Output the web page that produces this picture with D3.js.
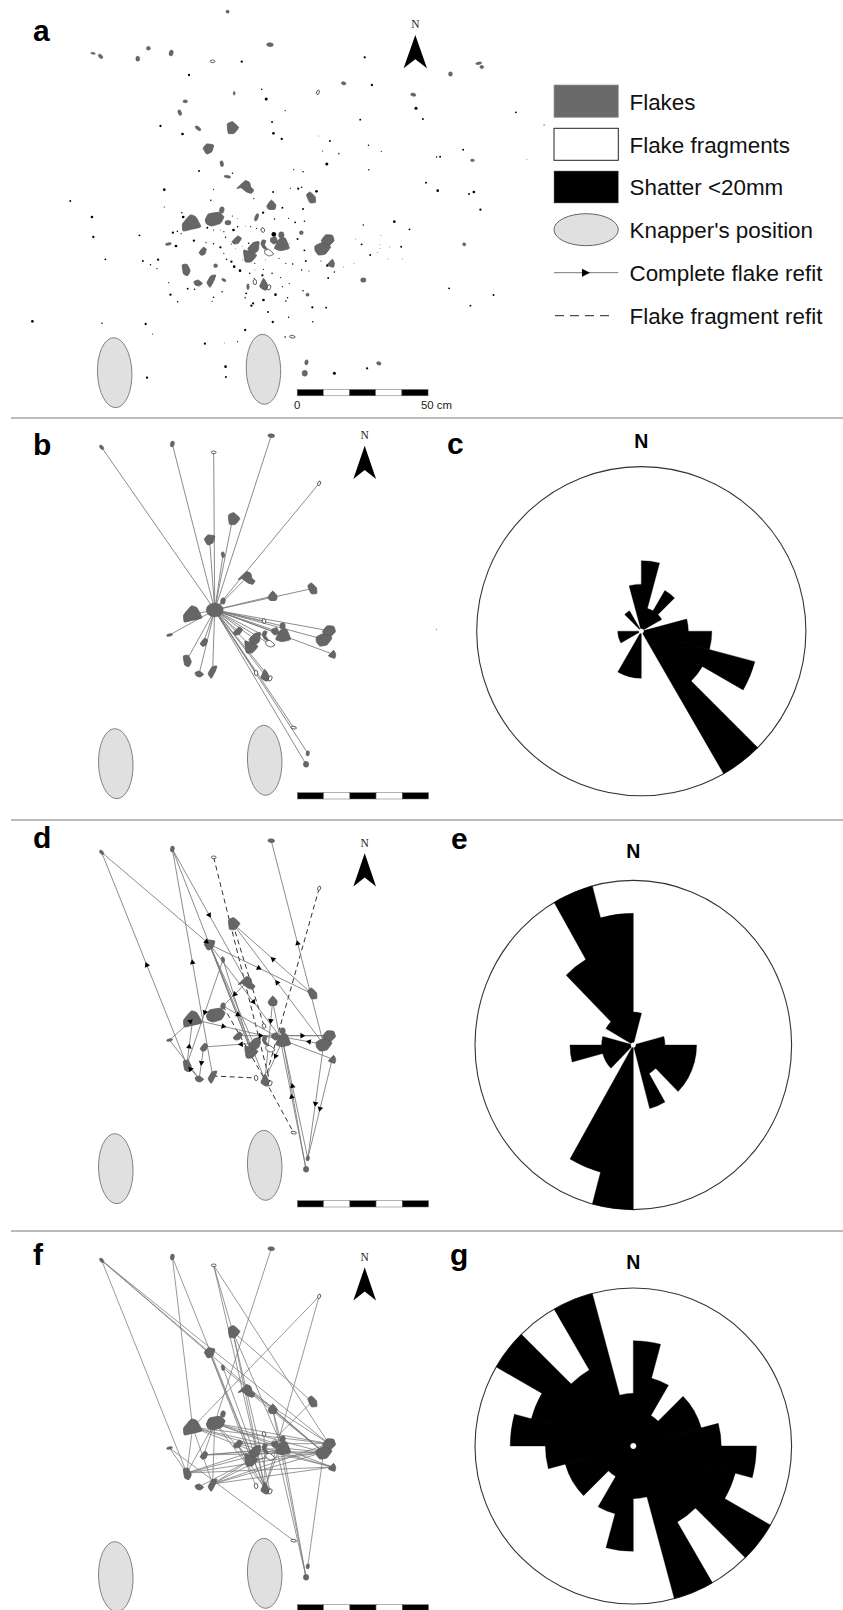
<!DOCTYPE html>
<html><head><meta charset="utf-8">
<style>html,body{margin:0;padding:0;background:#fff}svg{display:block}text{font-family:"Liberation Sans",Arial,sans-serif}</style>
<script src="https://cdn.jsdelivr.net/npm/d3@7"></script></head>
<body><script>
// ---------- DATA (site grid units; 380 units = 50 cm) ----------
const refitCentres = [null,[292,169],[497,159],[617,184],[784,134],[923,277],[672,382],[605,445],[644,491],[713,559],[644,630],[620,657],[556,670],[788,615],[902,593],[951,719],[936,745],[961,789],[817,732],[796,719],[817,705],[763,690],[686,719],[733,742],[726,767],[765,735],[779,759],[489,732],[588,753],[539,807],[575,848],[614,840],[740,846],[766,852],[781,862],[849,1010],[890,1087],[885,1120]];
const flakeOutlines = {
 6:[[660,372],[675,365],[693,382],[680,400],[663,400]],
 7:[[590,445],[600,432],[620,435],[615,455],[600,462]],
 9:[[688,565],[712,542],[725,548],[728,562],[737,570],[730,580],[715,575],[700,563]],
 11:[[596,660],[605,642],[635,637],[650,650],[640,670],[615,678],[600,672]],
 12:[[532,693],[530,672],[552,645],[568,650],[583,680],[555,688]],
 13:[[775,618],[788,600],[801,615],[798,628],[780,628]],
 14:[[890,585],[900,576],[915,590],[916,607],[900,608]],
 15:[[933,722],[945,705],[965,706],[970,722],[955,738],[940,732]],
 16:[[915,738],[935,728],[960,740],[945,762],[925,765],[915,752]],
 17:[[950,795],[965,778],[971,790],[968,802]],
 18:[[797,745],[810,718],[828,714],[840,745],[815,752]],
 19:[[786,715],[800,710],[806,725],[795,732],[786,725]],
 22:[[674,725],[690,708],[701,715],[692,730],[680,732]],
 23:[[720,745],[735,728],[752,725],[750,750],[740,760],[725,758]],
 24:[[708,750],[745,765],[730,785],[712,785]],
 25:[[762,720],[772,722],[768,735],[778,750],[765,745],[758,732]],
 28:[[578,758],[590,742],[599,747],[595,762],[585,766]],
 29:[[529,795],[543,793],[552,812],[545,827],[533,822]],
 30:[[563,845],[575,840],[588,850],[578,858],[567,855]],
 31:[[601,848],[612,828],[626,825],[622,840],[610,862]],
 33:[[754,860],[765,835],[775,850],[778,868],[768,870]]
};
// id: [rx, ry, rotation]
const smallRefitFlakes = {1:[8,5,45],2:[6,9,10],4:[10,6,5],8:[5,9,-10],10:[7,10,10],20:[8,10,0],27:[9,4,-10],36:[5,8,10],37:[8,9,0]};
const fragmentRefits = {3:[7,4,0],5:[4,7,20],21:[5,7,-20],32:[5,8,-5],34:[5,8,20],35:[8,4,10]};
const fragmentOutline = [[768,752],[780,748],[795,762],[782,768],[770,762]];
const otherFlakes = [[661,35,5,5,0],[270,160,7,3,10],[431,145,6,6,0],[400,176,6,8,0],[1308,222,6,7,0],[1390,190,9,4,-10],[1399,201,6,5,0],[998,250,7,5,10],[1200,284,8,5,10],[538,304,7,5,0],[522,338,5,9,-20],[575,385,10,5,40],[660,530,10,4,10],[745,652,5,12,20],[1372,481,6,4,0],[1348,733,5,5,30],[1055,840,8,7,0],[1100,1090,7,5,20],[893,884,5,5,0],[626,797,6,6,0],[650,840,7,4,30],[720,860,4,9,0],[875,698,6,6,0],[662,668,9,7,0],[725,570,8,8,0],[680,280,3,6,0]];
const shatter = [[1059,172,3],[702,185,3],[549,225,3],[760,268,2],[773,297,4],[828,332,1.5],[1498,337,2.5],[1208,325,4],[1228,357,2.5],[1046,359,2.5],[790,366,2.5],[466,378,3],[530,402,3.5],[794,400,3.5],[818,417,3],[925,408,1],[958,423,2.5],[1070,436,2],[937,453,1.5],[984,461,2],[1107,454,1.5],[1345,449,2.5],[1268,471,2],[1278,470,2.5],[1530,479,1],[949,492,4],[578,513,2.5],[853,509,1.5],[880,515,2],[1071,509,2],[675,520,2],[1237,548,2.5],[477,569,3.5],[620,568,1.5],[793,576,2.5],[843,565,1.5],[866,566,3],[876,562,2],[919,574,3.5],[1271,572,3.5],[1362,582,2.5],[1376,576,3.5],[204,603,2.5],[612,601,2],[737,596,1.5],[477,621,1.5],[820,623,2.5],[880,627,2.5],[1395,629,3],[267,651,3.5],[528,638,2],[532,651,3.5],[764,638,3],[797,657,2],[838,655,1.5],[857,667,2.5],[884,664,2],[1145,665,3.5],[1055,675,2],[1189,688,2.5],[271,711,3],[405,706,2.5],[502,698,3],[515,694,2],[526,701,1.5],[602,683,2.5],[620,690,1.5],[640,690,1],[650,695,1.5],[675,648,1.5],[690,655,1],[678,690,3.5],[690,680,2],[655,712,2],[712,678,1],[728,680,1.5],[745,685,1.5],[795,703,6],[864,717,2.5],[1033,717,1],[1106,707,1],[563,722,3],[598,728,1.5],[620,731,2],[640,742,3],[672,732,1.5],[684,745,1],[703,740,1],[722,730,2],[511,738,3.5],[840,730,1],[884,751,2.5],[1050,733,2.5],[1103,733,1],[1132,741,1],[1165,740,2.5],[1103,745,1],[1095,758,1],[1075,765,2.5],[306,778,2.5],[415,783,2.5],[459,779,3],[437,794,2],[456,806,1.5],[650,760,1.5],[658,778,2],[672,785,3],[680,800,3.5],[697,812,3.5],[705,780,1],[740,790,1.5],[770,780,1],[810,775,1.5],[830,790,1.5],[850,792,2],[888,783,2.5],[932,783,1.5],[950,797,3],[971,816,2],[998,801,1],[1028,791,1],[1127,777,1],[1168,777,1],[876,810,2],[897,813,1.5],[740,810,1],[765,808,1.5],[725,820,2],[762,826,3],[790,820,2],[815,833,1.5],[738,835,1.5],[953,834,2.5],[490,848,1.5],[840,850,1.5],[545,866,2.5],[565,868,2],[645,875,2],[820,860,1.5],[495,884,3],[715,880,2.5],[800,884,3.5],[880,872,2],[1304,865,2.5],[1433,885,2.5],[620,892,2],[712,893,2],[835,893,2],[765,900,3.5],[830,903,2],[616,904,1.5],[516,905,2],[735,910,3],[730,917,3],[907,922,3],[947,923,2.5],[1366,917,2.5],[778,936,2.5],[838,952,2],[94,964,3.5],[296,970,2],[423,972,3],[792,966,3],[908,965,2],[443,1002,1.5],[712,990,3],[828,1011,2],[595,1031,3],[651,1029,1],[690,1025,1.5],[655,1100,3.5],[1066,1105,3],[971,1120,4],[427,1133,3],[656,1131,2.5],[1080,255,3],[1580,375,1.5]];
const knappers = [[333,1118],[765,1108]];
const scaleCm = [0,10,20,30,40,50];

// panel b: all refits converge on flake 11
const hubId = 11;
const hubTargets = [1,2,3,4,5,6,7,8,9,10,12,13,14,15,16,17,18,19,20,21,22,23,24,25,26,27,28,29,30,31,32,33,34,35,36,37];
// panel d: [from, to, arrow position along line or null]
const completeRefits = [[29,1,.47],[31,2,.5],[1,7,.97],[7,14,.48],[2,9,.495],[2,24,null],[16,4,.496],[14,6,.49],[16,6,.51],[7,18,.6],[7,24,null],[7,23,null],[7,33,null],[8,29,.5],[9,10,.5],[10,18,.25],[12,18,.34],[13,33,.25],[37,13,.43],[27,12,.9],[27,30,null],[29,12,.4],[28,30,.5],[23,28,.25],[30,29,.7],[16,36,.52],[17,36,.5],[36,18,.61],[37,18,null],[22,15,.25],[19,15,.5],[16,19,.3],[17,18,null],[18,33,.4],[8,24,null]];
const fragmentRefitLines = [[3,34],[5,33],[6,21],[10,33],[31,32],[33,35]];
// panel f: all refit links
const allRefits = [[1,16],[1,15],[1,7],[1,29],[2,12],[2,33],[3,33],[3,6],[3,15],[4,11],[5,12],[5,33],[6,14],[6,33],[6,18],[6,34],[7,24],[7,33],[8,16],[8,23],[9,16],[9,15],[13,37],[13,16],[13,18],[14,25],[12,15],[12,17],[12,18],[12,23],[12,31],[11,15],[11,16],[11,17],[11,31],[11,28],[11,19],[11,29],[11,33],[11,24],[27,35],[27,29],[29,16],[29,17],[29,18],[29,23],[29,12],[31,16],[31,18],[31,24],[31,17],[31,15],[30,24],[28,16],[28,18],[28,23],[22,17],[22,15],[22,33],[22,32],[23,16],[24,16],[36,16],[37,18],[37,19],[20,33],[21,33],[18,16]];

// rose diagrams: counts per 15-degree bin, clockwise from north
const roseC = [3,1,2,1,0,2,3,5,3,7,0,0,2,2,0,0,1,1,0,0,0,1,0,2];
const roseE = [1,0,0,0,0,1,2,2,2,1,2,0,5,4,0,1,1,2,1,0,1,3,5,4];
const roseG = [6,4,2,4,4,5,7,6,9,5,9,3,6,4,2,4,4,5,7,6,9,5,9,3];

const legendItems = ["Flakes","Flake fragments","Shatter <20mm","Knapper's position","Complete flake refit","Flake fragment refit"];
const panelLetters = ["a","b","c","d","e","f","g"];

// ---------- LAYOUT ----------
const W=843,H=1610;
const svg=d3.select("body").append("svg").attr("width",W).attr("height",H).attr("viewBox",`0 0 ${W} ${H}`);
svg.append("rect").attr("width",W).attr("height",H).attr("fill","#fff");

const FLAKE="#666", LINE="#777", KNAP="#e0e0e0";
const dom=[0,1530];
const xA=d3.scaleLinear().domain(dom).range([0,526.9]);
const xB=d3.scaleLinear().domain(dom).range([1,1+527.4]);
const yFor=off=>d3.scaleLinear().domain([0,1530]).range([off,off+510]);
const cmToSite=d3.scaleLinear().domain([0,50]).range([863,1243]);
const polyLine=d3.line().curve(d3.curveCardinalClosed.tension(.6));

function flakePoly(g,pts,x,y,fill,stroke,sw){
  g.append("path").attr("d",polyLine(pts.map(p=>[x(p[0]),y(p[1])])))
   .attr("fill",fill).attr("stroke",stroke).attr("stroke-width",sw).attr("stroke-linejoin","round");
}
function blob(g,cx,cy,rx,ry,rot,x,y,fill,stroke,sw){
  const px=x(cx),py=y(cy);
  g.append("ellipse").attr("cx",px).attr("cy",py)
   .attr("rx",x(rx)-x(0)).attr("ry",y(ry)-y(0))
   .attr("transform",`rotate(${rot} ${px} ${py})`)
   .attr("fill",fill).attr("stroke",stroke).attr("stroke-width",sw);
}
function knapperMarks(g,x,y){
  knappers.forEach(k=>{
    const px=x(k[0]),py=y(k[1]);
    g.append("ellipse").attr("cx",px).attr("cy",py)
     .attr("rx",x(50)-x(0)).attr("ry",y(105)-y(0))
     .attr("transform",`rotate(-2 ${px} ${py})`)
     .attr("fill",KNAP).attr("stroke","#777").attr("stroke-width",.9);
  });
}
function refitFlakes(g,x,y,skipPoly){
  Object.keys(flakeOutlines).forEach(id=>{
    if(+id===skipPoly) return;
    flakePoly(g,flakeOutlines[id],x,y,FLAKE,"#5a5a5a",.8);
  });
  Object.keys(smallRefitFlakes).forEach(id=>{
    const c=refitCentres[id],s=smallRefitFlakes[id];
    blob(g,c[0],c[1],s[0],s[1],s[2],x,y,FLAKE,"#5a5a5a",.4);
  });
  Object.keys(fragmentRefits).forEach(id=>{
    const c=refitCentres[id],s=fragmentRefits[id];
    blob(g,c[0],c[1],s[0],s[1],s[2],x,y,"#fff","#222",.7);
  });
  flakePoly(g,fragmentOutline,x,y,"#fff","#222",.7);
}
function scaleBar(g,x,dx,yTop,h){
  d3.pairs(scaleCm).forEach((p,i)=>{
    const a=x(cmToSite(p[0]))+dx,b=x(cmToSite(p[1]))+dx;
    g.append("rect").attr("x",a).attr("y",yTop).attr("width",b-a).attr("height",h)
     .attr("fill",i%2?"#fff":"#000").attr("stroke","#666").attr("stroke-width",.5);
  });
}
function northArrow(g,cx,yN,yApex,size){
  g.append("text").attr("x",cx).attr("y",yN).attr("text-anchor","middle")
   .style("font-family",'"Liberation Serif",serif').style("font-size","11.5px").attr("fill","#222").text("N");
  const t=size.h, hw=size.w/2;
  g.append("path").attr("d",d3.line()([[cx,yApex],[cx+hw,yApex+t],[cx,yApex+t*.73],[cx-hw,yApex+t]])+"Z").attr("fill","#000");
}
function link(g,x,y,a,b,dash,w){
  const A=refitCentres[a],B=refitCentres[b];
  g.append("line").attr("x1",x(A[0])).attr("y1",y(A[1])).attr("x2",x(B[0])).attr("y2",y(B[1]))
   .attr("stroke",dash?"#333":LINE).attr("stroke-width",dash?1:(w||.85)).attr("stroke-dasharray",dash?"5,3.5":null);
}
const triangle=d3.symbol().type(d3.symbolTriangle).size(14);
function arrowHead(g,x,y,a,b,t){
  const A=refitCentres[a],B=refitCentres[b];
  const ax=x(A[0]),ay=y(A[1]),bx=x(B[0]),by=y(B[1]);
  const px=ax+(bx-ax)*t,py=ay+(by-ay)*t;
  const ang=Math.atan2(by-ay,bx-ax)*180/Math.PI+90;
  g.append("path").attr("d",triangle()).attr("transform",`translate(${px},${py}) rotate(${ang})`).attr("fill","#000");
}

// ---------- Panel a ----------
const gA=svg.append("g");
const yA=yFor(0);
knapperMarks(gA,xA,yA);
otherFlakes.forEach(f=>blob(gA,f[0],f[1],f[2],f[3],f[4],xA,yA,FLAKE,"#5a5a5a",.3));
refitFlakes(gA,xA,yA,null);
gA.selectAll("circle.sh").data(shatter).join("circle").attr("cx",d=>xA(d[0])).attr("cy",d=>yA(d[1])).attr("r",d=>yA(d[2]*1.15)).attr("fill","#000");
scaleBar(gA,xA,0,389.5,6.3);
gA.append("text").attr("x",xA(863)).attr("y",409).attr("text-anchor","middle").style("font-size","11.4px").attr("fill","#222").text(scaleCm[0]);
gA.append("text").attr("x",421).attr("y",409).style("font-size","11.4px").attr("fill","#222").text(scaleCm[5]+" cm");
northArrow(gA,415.3,28.3,35,{w:23.4,h:33.3});

// ---------- Panels b, d, f ----------
const gB=svg.append("g"), yB=yFor(391);
knapperMarks(gB,xB,yB);
hubTargets.forEach(t=>link(gB,xB,yB,hubId,t,false));
refitFlakes(gB,xB,yB,hubId);
{const c=refitCentres[hubId]; blob(gB,c[0],c[1],25,21,0,xB,yB,FLAKE,"#5a5a5a",.3);}
blob(gB,1263,715,1,2,0,xB,yB,"#666","#666",.2);
scaleBar(gB,xB,-1,792.7,6.3);
northArrow(gB,364.7,439,445.7,{w:22.7,h:33.3});

const gD=svg.append("g"), yD=yFor(796);
knapperMarks(gD,xB,yD);
fragmentRefitLines.forEach(l=>link(gD,xB,yD,l[0],l[1],true));
completeRefits.forEach(l=>link(gD,xB,yD,l[0],l[1],false));
refitFlakes(gD,xB,yD,null);
completeRefits.filter(l=>l[2]!==null).forEach(l=>arrowHead(gD,xB,yD,l[0],l[1],l[2]));
scaleBar(gD,xB,-1,1200.7,6.3);
northArrow(gD,364.7,846.7,853.3,{w:22.7,h:33.3});

const gF=svg.append("g"), yF=yFor(1204);
knapperMarks(gF,xB,yF);
allRefits.forEach(l=>link(gF,xB,yF,l[0],l[1],false,.75));
refitFlakes(gF,xB,yF,null);
scaleBar(gF,xB,-1,1604.7,6.3);
northArrow(gF,364.7,1261,1267.3,{w:22.7,h:33.3});

// ---------- Rose diagrams ----------
function rose(counts,cx,cy,R,yStretch,maxCount,labelY,hole){
  const g=svg.append("g").attr("transform",`translate(${cx},${cy}) scale(1,${yStretch})`);
  const r=d3.scaleLinear().domain([0,maxCount]).range([0,R]);
  const ang=d3.scaleLinear().domain([0,24]).range([0,2*Math.PI]);
  const arc=d3.arc().innerRadius(hole);
  g.append("ellipse").attr("rx",R).attr("ry",R).attr("fill","#fff").attr("stroke","#333").attr("stroke-width",1.1);
  // one compound path; a hairline stroke closes the seams between neighbouring sectors
  const d=counts.map((c,i)=>c>0?arc({outerRadius:r(c),startAngle:ang(i),endAngle:ang(i+1)}):"").join("");
  g.append("path").attr("d",d).attr("fill","#000").attr("stroke","#000").attr("stroke-width",.35);
  svg.append("text").attr("x",cx).attr("y",labelY).attr("text-anchor","middle")
    .style("font-size","19.5px").style("font-weight","700").attr("fill","#000").text("N");
}
rose(roseC,641.3,631.2,164.6,1,7,448.3,2.7);
rose(roseE,633.3,1045,158.3,1.04,5,858.3,2.7);
rose(roseG,633.3,1446,158.3,.998,9,1269,3.2);

// ---------- Separators ----------
[418,820,1231].forEach(y=>svg.append("line").attr("x1",11).attr("x2",W).attr("y1",y).attr("y2",y).attr("stroke","#777").attr("stroke-width",1));

// ---------- Panel letters ----------
const letterPos=[[33,41],[33,455],[447,454],[33,848],[451,849],[33,1265],[450,1265]];
panelLetters.forEach((l,i)=>svg.append("text").attr("x",letterPos[i][0]).attr("y",letterPos[i][1])
  .style("font-size","30px").style("font-weight","700").attr("fill","#000").text(l));

// ---------- Legend ----------
const gL=svg.append("g");
const lx=554,lw=64.3;
const rowY=d3.scalePoint().domain(d3.range(legendItems.length)).range([109.8,323.8]);
gL.append("rect").attr("x",lx).attr("y",85).attr("width",lw).attr("height",32.3).attr("fill","#6a6a6a").attr("stroke","#999").attr("stroke-width",.7);
gL.append("rect").attr("x",lx).attr("y",128.3).attr("width",lw).attr("height",32).attr("fill","#fff").attr("stroke","#222").attr("stroke-width",1);
gL.append("rect").attr("x",lx).attr("y",171).attr("width",lw).attr("height",32).attr("fill","#000").attr("stroke","#777").attr("stroke-width",.5);
gL.append("ellipse").attr("cx",lx+lw/2).attr("cy",229.7).attr("rx",lw/2).attr("ry",16).attr("fill",KNAP).attr("stroke","#555").attr("stroke-width",.9);
gL.append("line").attr("x1",lx).attr("x2",lx+lw).attr("y1",272.7).attr("y2",272.7).attr("stroke",LINE).attr("stroke-width",1);
gL.append("path").attr("d",d3.line()([[lx+28,268.7],[lx+36,272.7],[lx+28,276.7]])+"Z").attr("fill","#000");
gL.append("line").attr("x1",lx+1).attr("x2",lx+58).attr("y1",315.7).attr("y2",315.7).attr("stroke","#222").attr("stroke-width",1).attr("stroke-dasharray","9,6");
gL.selectAll("text").data(legendItems).join("text").attr("x",629.5).attr("y",(d,i)=>rowY(i))
  .style("font-size","22.4px").attr("fill","#111").text(d=>d);
</script></body></html>
